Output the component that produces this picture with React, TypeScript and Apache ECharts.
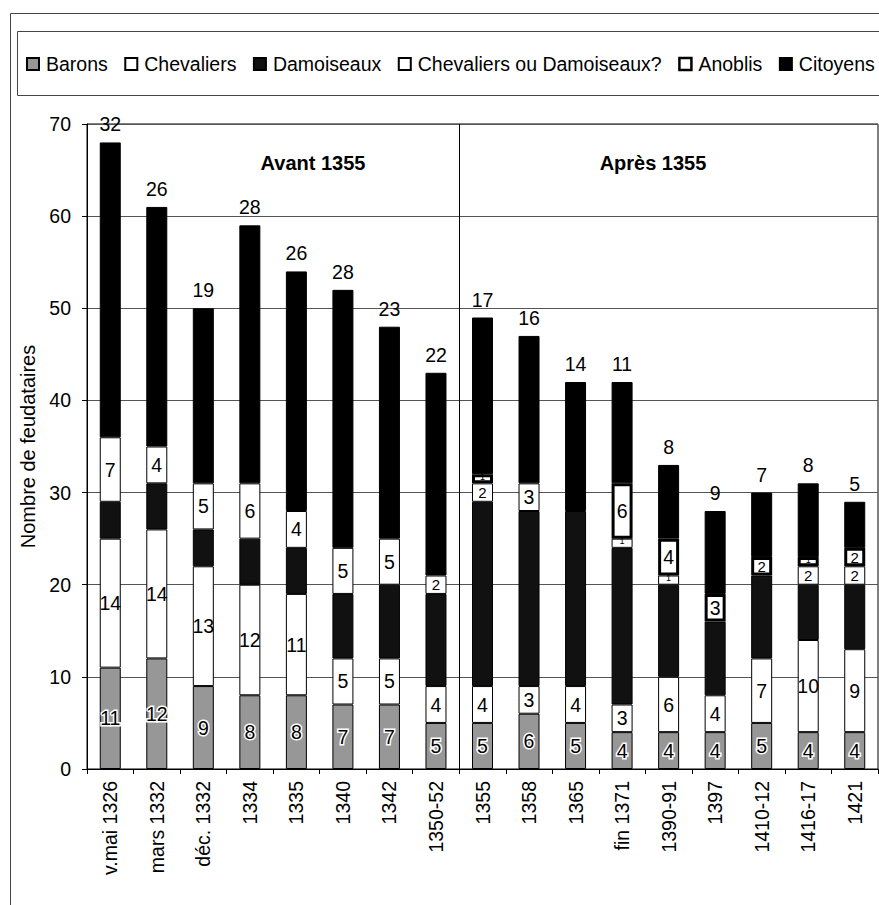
import React, { useEffect, useRef } from "react";
import * as echarts from "echarts";

const categories = [
  "v.mai 1326", "mars 1332", "déc. 1332", "1334", "1335", "1340", "1342", "1350-52",
  "1355", "1358", "1365", "fin 1371", "1390-91", "1397", "1410-12", "1416-17", "1421",
];
const barons = [11, 12, 9, 8, 8, 7, 7, 5, 5, 6, 5, 4, 4, 4, 5, 4, 4];
const chevaliers = [14, 14, 13, 12, 11, 5, 5, 4, 4, 3, 4, 3, 6, 4, 7, 10, 9];
const damoiseaux = [4, 5, 4, 5, 5, 7, 8, 10, 20, 19, 19, 17, 10, 8, 9, 6, 7];
const chevOuDam = [7, 4, 5, 6, 4, 5, 5, 2, 2, 3, 0, 1, 1, 0, 0, 2, 2];
const anoblis = [0, 0, 0, 0, 0, 0, 0, 0, 1, 0, 0, 6, 4, 3, 2, 1, 2];
const citoyens = [32, 26, 19, 28, 26, 28, 23, 22, 17, 16, 14, 11, 8, 9, 7, 8, 5];

const yTicks = { min: 0, max: 70, interval: 10 };
const periodLabels = ["Avant 1355", "Après 1355"];
const periodBoundary = 8; // index of the first category "Après 1355"

const FONT = "'Liberation Sans', Arial, Helvetica, sans-serif";

export default function App() {
  const ref = useRef<HTMLDivElement>(null);

  useEffect(() => {
    document.body.style.margin = "0";
    const chart = echarts.init(ref.current!, null, { renderer: "svg" });
    const toData = (arr: number[], small = false) =>
      arr.map((v) => {
        if (v === 0) return "-";
        if (small && v === 1)
          return { value: v, label: { fontSize: 9, lineHeight: 9, offset: [0, -2] } };
        if (small && v === 2) return { value: v, label: { fontSize: 15, lineHeight: 15 } };
        return v;
      });
    const numLabel = {
      show: true,
      position: "inside",
      color: "#000",
      fontSize: 19.5,
      lineHeight: 16,
      fontFamily: FONT,
    };
    const barW = 21;
    const series: any[] = [
      {
        name: "Barons",
        data: toData(barons),
        itemStyle: { color: "#979797", borderColor: "#000", borderWidth: 1 },
        label: { ...numLabel, textBorderColor: "#fff", textBorderWidth: 3 },
      },
      {
        name: "Chevaliers",
        data: toData(chevaliers),
        itemStyle: { color: "#fff", borderColor: "#000", borderWidth: 1 },
        label: numLabel,
      },
      {
        name: "Damoiseaux",
        data: toData(damoiseaux),
        itemStyle: { color: "#111", borderColor: "#000", borderWidth: 1 },
        label: { show: false },
      },
      {
        name: "Chevaliers ou Damoiseaux?",
        data: toData(chevOuDam, true),
        itemStyle: { color: "#fff", borderColor: "#000", borderWidth: 1 },
        label: numLabel,
      },
      {
        name: "Anoblis",
        data: toData(anoblis, true),
        itemStyle: { color: "#fff", borderColor: "#000", borderWidth: 3 },
        label: numLabel,
      },
      {
        name: "Citoyens",
        data: toData(citoyens),
        itemStyle: { color: "#000", borderColor: "#000", borderWidth: 1 },
        label: { ...numLabel, position: "top", distance: 10 },
      },
    ].map((s) => ({ ...s, type: "bar", stack: "total", barWidth: barW }));

    const legendData = series.map((s) =>
      s.name === "Anoblis"
        ? { name: s.name, itemStyle: { borderWidth: 2.5, borderColor: "#000" } }
        : { name: s.name }
    );

    series.push({
      type: "scatter",
      xAxisIndex: 1,
      data: [],
      silent: true,
      markLine: {
        silent: true,
        symbol: "none",
        label: { show: false },
        lineStyle: { color: "#000", width: 1, type: "solid" },
        data: [{ xAxis: periodBoundary }],
      },
    });

    chart.setOption({
      animation: false,
      backgroundColor: "#fff",
      textStyle: { fontFamily: FONT, color: "#000" },
      legend: {
        left: 26,
        top: 54,
        padding: 0,
        width: 860,
        itemWidth: 12,
        itemHeight: 12,
        itemGap: 16.5,
        icon: "rect",
        textStyle: { fontSize: 19.5, fontFamily: FONT, color: "#000", padding: [0, 0, 0, 2] },
        data: legendData,
      },
      grid: {
        left: 87,
        right: 1,
        top: 124,
        bottom: 136,
        show: true,
        borderColor: "#000",
        borderWidth: 1,
        backgroundColor: "transparent",
      },
      xAxis: [
        {
          type: "category",
          data: categories,
          boundaryGap: true,
          axisLine: { lineStyle: { color: "#000", width: 1 } },
          axisTick: { show: true, length: 5, lineStyle: { color: "#000" } },
          axisLabel: {
            rotate: 90,
            margin: 12,
            fontSize: 19.5,
            fontFamily: FONT,
            color: "#000",
            interval: 0,
          },
          splitLine: { show: false },
        },
        {
          type: "value",
          min: 0,
          max: categories.length,
          show: false,
          splitLine: { show: false },
        },
      ],
      yAxis: {
        type: "value",
        min: yTicks.min,
        max: yTicks.max,
        interval: yTicks.interval,
        name: "Nombre de feudataires",
        nameLocation: "middle",
        nameGap: 44,
        nameTextStyle: { fontSize: 20, fontFamily: FONT, color: "#000" },
        axisLine: { show: true, lineStyle: { color: "#000", width: 1 } },
        axisTick: { show: true, length: 5, lineStyle: { color: "#000" } },
        axisLabel: { margin: 16, fontSize: 19.5, fontFamily: FONT, color: "#000" },
        splitLine: { show: true, lineStyle: { color: "#555", width: 1 } },
      },
      graphic: [
        {
          type: "rect",
          silent: true,
          shape: { x: 10.5, y: 13.5, width: 1000, height: 1000 },
          style: { fill: "none", stroke: "#444", lineWidth: 1 },
        },
        {
          type: "rect",
          silent: true,
          shape: { x: 17.5, y: 31.5, width: 1000, height: 64 },
          style: { fill: "none", stroke: "#444", lineWidth: 1 },
        },
        {
          type: "text",
          silent: true,
          x: 313,
          y: 163,
          style: {
            text: periodLabels[0],
            fontSize: 20,
            fontWeight: "bold",
            fontFamily: FONT,
            fill: "#000",
            align: "center",
            verticalAlign: "middle",
          },
        },
        {
          type: "text",
          silent: true,
          x: 653,
          y: 163,
          style: {
            text: periodLabels[1],
            fontSize: 20,
            fontWeight: "bold",
            fontFamily: FONT,
            fill: "#000",
            align: "center",
            verticalAlign: "middle",
          },
        },
      ],
      series,
    });

    return () => chart.dispose();
  }, []);

  return (
    <div
      ref={ref}
      style={{ position: "absolute", left: 0, top: 0, width: 879, height: 905 }}
    />
  );
}
